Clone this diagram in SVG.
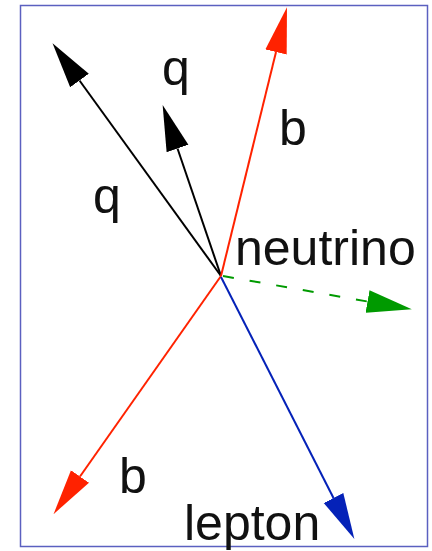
<svg xmlns="http://www.w3.org/2000/svg" width="432" height="551" viewBox="0 0 432 551">
<style>
.lbl{font-family:"Liberation Sans",Arial,sans-serif;font-size:50px;fill:#111}
.trk{stroke-width:2;fill:none;stroke-linecap:butt}
</style>
<defs>
<marker id="ahK" markerUnits="userSpaceOnUse" viewBox="0 -12 47 24" refX="0" refY="0" markerWidth="47" markerHeight="24" orient="auto"><path d="M0,-11.5 L46,0 L0,11.5 z" fill="#000"/></marker>
<marker id="ahR" markerUnits="userSpaceOnUse" viewBox="0 -12 47 24" refX="0" refY="0" markerWidth="47" markerHeight="24" orient="auto"><path d="M0,-11 L46,0 L0,11 z" fill="#ff2200"/></marker>
<marker id="ahB" markerUnits="userSpaceOnUse" viewBox="0 -12 47 24" refX="0" refY="0" markerWidth="47" markerHeight="24" orient="auto"><path d="M0,-11 L46,0 L0,11 z" fill="#0522b8"/></marker>
<marker id="ahG" markerUnits="userSpaceOnUse" viewBox="0 -12 47 24" refX="0" refY="0" markerWidth="47" markerHeight="24" orient="auto"><path d="M0,-11.5 L45,0 L0,11.5 z" fill="#009a00"/></marker>
</defs>
<rect x="20.5" y="5.5" width="407" height="541" fill="#fff" stroke="#5b60c0" stroke-width="1.5"/>
<g id="connectors">
<line class="trk" x1="221" y1="276" x2="79.5" y2="80.5" stroke="#000" marker-end="url(#ahK)"/>
<line class="trk" x1="221" y1="276" x2="177.5" y2="148.5" stroke="#000" marker-end="url(#ahK)"/>
<line class="trk" x1="221" y1="276" x2="276" y2="52" stroke="#ff2200" marker-end="url(#ahR)"/>
<line class="trk" x1="221" y1="276" x2="80" y2="476.5" stroke="#ff2200" marker-end="url(#ahR)"/>
<line class="trk" x1="221" y1="277" x2="333.5" y2="498" stroke="#0522b8" marker-end="url(#ahB)"/>
<line class="trk" x1="223" y1="276" x2="367.5" y2="301.5" stroke="#009a00" stroke-dasharray="11 16" marker-end="url(#ahG)"/>
</g>
<g id="q1"><text class="lbl" x="162" y="85">q</text></g>
<g id="q2"><text class="lbl" x="93" y="213">q</text></g>
<g id="b1"><text class="lbl" x="279" y="145">b</text></g>
<g id="b2"><text class="lbl" x="119" y="493">b</text></g>
<g id="neutrino"><text class="lbl" x="235" y="265">neutrino</text></g>
<g id="lepton"><text class="lbl" x="184" y="540">lepton</text></g>
</svg>
